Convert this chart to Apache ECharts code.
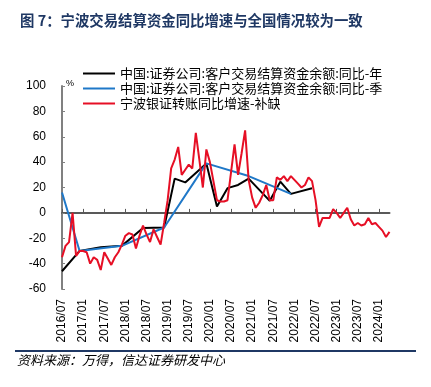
<!DOCTYPE html>
<html>
<head>
<meta charset="utf-8">
<script src="https://cdn.jsdelivr.net/npm/echarts@6/dist/echarts.min.js"></script>
<style>
html,body{margin:0;padding:0;background:#fff;}
#c{width:431px;height:387px;}
</style>
</head>
<body>
<div id="c"></div>
<script>
// Categories: months 2016/07 .. 2024/04
const months = [];
for (let y = 2016; y <= 2024; y++) {
  for (let m = 1; m <= 12; m++) {
    if (y === 2016 && m < 7) continue;
    if (y === 2024 && m > 4) continue;
    months.push(y + '/' + (m < 10 ? '0' + m : m));
  }
}
const yTicks = {min: -60, max: 100, interval: 20};

const seriesNames = [
  '中国:证券公司:客户交易结算资金余额:同比-年',
  '中国:证券公司:客户交易结算资金余额:同比-季',
  '宁波银证转账同比增速-补缺'
];

// 同比-年 (sparse points)
const blackPoints = [
  ['2016/07', -46], ['2016/12', -30], ['2017/06', -27], ['2017/12', -26],
  ['2018/06', -12], ['2018/12', -11.5], ['2019/03', 27], ['2019/06', 24],
  ['2019/12', 39], ['2020/03', 5], ['2020/06', 19.5], ['2020/09', 22],
  ['2020/12', 27], ['2021/06', 9.5], ['2021/09', 24.6], ['2021/12', 15],
  ['2022/06', 19.4]
];

// 同比-季 (sparse points)
const bluePoints = [
  ['2016/07', 16], ['2016/12', -30], ['2017/12', -26], ['2018/12', -11.5],
  ['2019/12', 39], ['2020/12', 29], ['2021/12', 15]
];

// 宁波银证转账同比增速 (monthly, 2016/07 .. 2024/04)
const redValues = [
  -35, -26, -23, 0, -34, -30, -30, -31, -40, -35,
  -37, -45, -31, -36, -41, -35, -31, -25, -18, -16,
  -17, -28, -18, -10, -17, -23, -13, -19, -25, -8,
  10, 35, 42, 52, 30, 34, 38, 35, 63, 42,
  20, 50, 40, 25, 10, 9, 9, 10, 32, 54,
  30, 47, 65, 26, 12, 4, 8, 14, 22, 10,
  10, 28, 26, 29, 25, 29, 26, 23, 20, 22,
  28, 25, 10, -11, -4, -4, -4, 3, 0, -4,
  0, 4, -5, -10, -8, -10, -9, -4, -9, -8,
  -11, -14, -19, -15
];

const chart = echarts.init(document.getElementById('c'), null, {renderer: 'canvas'});
const numFont = '"Liberation Sans", Arial, sans-serif';
const cjkFont = '"Noto Sans CJK SC", sans-serif';

chart.setOption({
  animation: false,
  backgroundColor: '#fff',
  title: {
    text: '图 7：宁波交易结算资金同比增速与全国情况较为一致',
    left: 15, top: 8,
    textStyle: {color: '#1f3864', fontSize: 14.4, fontWeight: 'bold', fontFamily: cjkFont}
  },
  legend: {
    orient: 'vertical',
    left: 78, top: 62,
    itemWidth: 32, itemHeight: 2,
    itemGap: 2,
    icon: 'rect',
    textStyle: {color: '#000', fontSize: 13, fontFamily: cjkFont},
    data: seriesNames
  },
  grid: {left: 62, right: 41.5, top: 86, bottom: 98, containLabel: false},
  xAxis: [{
    type: 'category',
    data: months,
    boundaryGap: false,
    position: 'bottom',
    axisLine: {show: false, onZero: false},
    axisTick: {show: false},
    axisLabel: {interval: 5, rotate: 90, margin: 10, color: '#000', fontSize: 12, fontFamily: numFont},
    splitLine: {show: false}
  }, {
    type: 'category',
    data: months,
    boundaryGap: false,
    position: 'bottom',
    axisLine: {show: true, onZero: true, lineStyle: {color: '#595959', width: 2}},
    axisTick: {show: true, inside: true, interval: 5, length: 4, lineStyle: {color: '#595959', width: 1}},
    axisLabel: {show: false},
    splitLine: {show: false}
  }],
  yAxis: {
    type: 'value',
    min: yTicks.min, max: yTicks.max, interval: yTicks.interval,
    name: '%',
    nameLocation: 'end',
    nameGap: -2,
    nameTextStyle: {color: '#000', fontSize: 9, fontFamily: numFont, align: 'left', padding: [0, 0, 0, 4]},
    axisLine: {show: true, lineStyle: {color: '#808080', width: 2}},
    axisTick: {show: true, inside: true, length: 3, lineStyle: {color: '#808080'}},
    axisLabel: {color: '#000', fontSize: 12, margin: 16, fontFamily: numFont},
    splitLine: {show: false}
  },
  series: [{
    name: seriesNames[0],
    type: 'line',
    data: blackPoints,
    showSymbol: false,
    connectNulls: true,
    lineStyle: {color: '#000000', width: 2},
    itemStyle: {color: '#000000'},
    z: 3
  }, {
    name: seriesNames[1],
    type: 'line',
    data: bluePoints,
    showSymbol: false,
    connectNulls: true,
    lineStyle: {color: '#1f78c8', width: 2},
    itemStyle: {color: '#1f78c8'},
    z: 4
  }, {
    name: seriesNames[2],
    type: 'line',
    data: redValues,
    showSymbol: false,
    lineStyle: {color: '#e60f25', width: 2},
    itemStyle: {color: '#e60f25'},
    z: 5
  }],
  graphic: [{
    type: 'rect',
    shape: {x: 15, y: 350, width: 401, height: 2},
    style: {fill: '#1f3864'}
  }, {
    type: 'text',
    left: 17, top: 354,
    style: {
      text: '资料来源：万得，信达证券研发中心',
      fill: '#000',
      font: 'italic 13px "Noto Sans CJK SC", sans-serif'
    }
  }]
});
</script>
</body>
</html>
